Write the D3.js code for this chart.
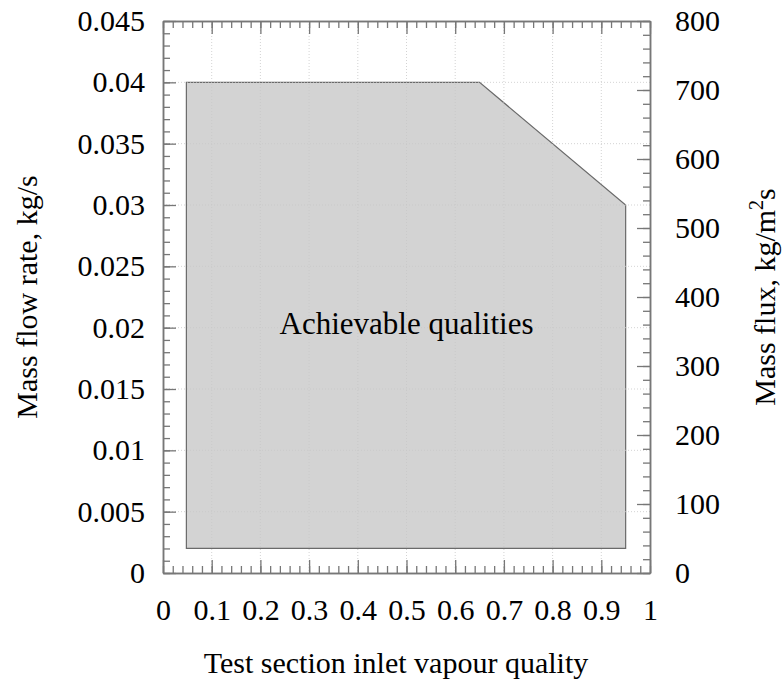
<!DOCTYPE html>
<html>
<head>
<meta charset="utf-8">
<script src="https://cdn.jsdelivr.net/npm/d3@7"></script>
<style>
  body { margin: 0; background: #fff; }
  text { font-family: "Liberation Serif", "Times New Roman", serif; fill: #000; }
</style>
</head>
<body>
<svg id="chart" width="782" height="684"></svg>
<script>
// region of achievable qualities (outline points)
var quality = [0.048, 0.048, 0.65, 0.95, 0.95];
var massFlow = [0.002, 0.04, 0.04, 0.03, 0.002];

var xTicks = [0, 0.1, 0.2, 0.3, 0.4, 0.5, 0.6, 0.7, 0.8, 0.9, 1];
var xTickLabels = ["0", "0.1", "0.2", "0.3", "0.4", "0.5", "0.6", "0.7", "0.8", "0.9", "1"];
var yTicks = [0, 0.005, 0.01, 0.015, 0.02, 0.025, 0.03, 0.035, 0.04, 0.045];
var yTickLabels = ["0", "0.005", "0.01", "0.015", "0.02", "0.025", "0.03", "0.035", "0.04", "0.045"];
var fluxTicks = [0, 100, 200, 300, 400, 500, 600, 700, 800];

var margin = {left: 163, right: 132, top: 21, bottom: 111};
var width = 782 - margin.left - margin.right;
var height = 684 - margin.top - margin.bottom;
var fs = 30;

var svg = d3.select("#chart");
var g = svg.append("g").attr("transform", "translate(" + margin.left + "," + margin.top + ")");

var x = d3.scaleLinear().domain([0, 1]).range([0, width]);
var y = d3.scaleLinear().domain([0, 0.045]).range([height, 0]);
var y2 = d3.scaleLinear().domain([0, 800]).range([height, 0]);

var points = quality.map(function (q, i) { return [x(q), y(massFlow[i])]; });

g.append("path")
    .attr("d", d3.line()(points) + "Z")
    .attr("fill", "#d3d3d3")
    .attr("stroke", "#6a6a6a")
    .attr("stroke-width", 1.2);

// dotted grid
g.selectAll(".gridx").data(xTicks.slice(1, -1)).enter().append("line")
    .attr("x1", function (d) { return x(d); }).attr("x2", function (d) { return x(d); })
    .attr("y1", 0).attr("y2", height)
    .attr("stroke", "#c8c8c8").attr("stroke-width", 0.8).attr("stroke-dasharray", "1,2");
g.selectAll(".gridy").data(yTicks.slice(1, -1)).enter().append("line")
    .attr("y1", function (d) { return y(d); }).attr("y2", function (d) { return y(d); })
    .attr("x1", 0).attr("x2", width)
    .attr("stroke", "#c8c8c8").attr("stroke-width", 0.8).attr("stroke-dasharray", "1,2");

function minorTicks(scale, step) {
    var d = scale.domain(), out = [];
    for (var v = d[0]; v <= d[1] + step / 2; v += step) out.push(+v.toFixed(6));
    return out;
}

function styleAxis(sel) {
    sel.selectAll("line").attr("stroke", "#777").attr("stroke-width", 1.3);
    sel.selectAll("path").attr("stroke", "#777").attr("stroke-width", 1.5);
    sel.selectAll("text").style("font-family", "Liberation Serif").style("font-size", fs + "px").attr("fill", "#000");
}

// bottom
g.append("g").attr("transform", "translate(0," + height + ")")
    .call(d3.axisBottom(x).tickValues(minorTicks(x, 0.02)).tickSize(-7).tickFormat("").tickSizeOuter(0))
    .call(styleAxis);
g.append("g").attr("transform", "translate(0," + height + ")")
    .call(d3.axisBottom(x).tickValues(xTicks).tickSize(-13).tickPadding(26).tickSizeOuter(0)
        .tickFormat(function (d, i) { return xTickLabels[i]; }))
    .call(styleAxis);
// top
g.append("g")
    .call(d3.axisTop(x).tickValues(minorTicks(x, 0.02)).tickSize(-7).tickFormat("").tickSizeOuter(0))
    .call(styleAxis);
g.append("g")
    .call(d3.axisTop(x).tickValues(xTicks).tickSize(-13).tickFormat("").tickSizeOuter(0))
    .call(styleAxis);
// left
g.append("g")
    .call(d3.axisLeft(y).tickValues(minorTicks(y, 0.001)).tickSize(-7).tickFormat("").tickSizeOuter(0))
    .call(styleAxis);
g.append("g")
    .call(d3.axisLeft(y).tickValues(yTicks).tickSize(-13).tickPadding(18).tickSizeOuter(0)
        .tickFormat(function (d, i) { return yTickLabels[i]; }))
    .call(styleAxis);
// right
g.append("g").attr("transform", "translate(" + width + ",0)")
    .call(d3.axisRight(y2).tickValues(minorTicks(y2, 20)).tickSize(-7).tickFormat("").tickSizeOuter(0))
    .call(styleAxis);
g.append("g").attr("transform", "translate(" + width + ",0)")
    .call(d3.axisRight(y2).tickValues(fluxTicks).tickSize(-13).tickPadding(25).tickSizeOuter(0))
    .call(styleAxis);

// region label
g.append("text")
    .attr("x", x(0.5)).attr("y", y(0.0195))
    .attr("text-anchor", "middle")
    .style("font-size", "31px")
    .text("Achievable qualities");

// axis titles
svg.append("text")
    .attr("x", 396).attr("y", 673)
    .attr("text-anchor", "middle")
    .style("font-size", fs + "px")
    .text("Test section inlet vapour quality");

svg.append("text")
    .attr("transform", "translate(37," + (margin.top + height / 2) + ") rotate(-90)")
    .attr("text-anchor", "middle")
    .style("font-size", fs + "px")
    .text("Mass flow rate, kg/s");

var t2 = svg.append("text")
    .attr("transform", "translate(775," + (margin.top + height / 2) + ") rotate(-90)")
    .attr("text-anchor", "middle")
    .style("font-size", fs + "px");
t2.append("tspan").text("Mass flux, kg/m");
t2.append("tspan").attr("dy", -12).style("font-size", "20px").text("2");
t2.append("tspan").attr("dy", 12).text("s");
</script>
</body>
</html>
